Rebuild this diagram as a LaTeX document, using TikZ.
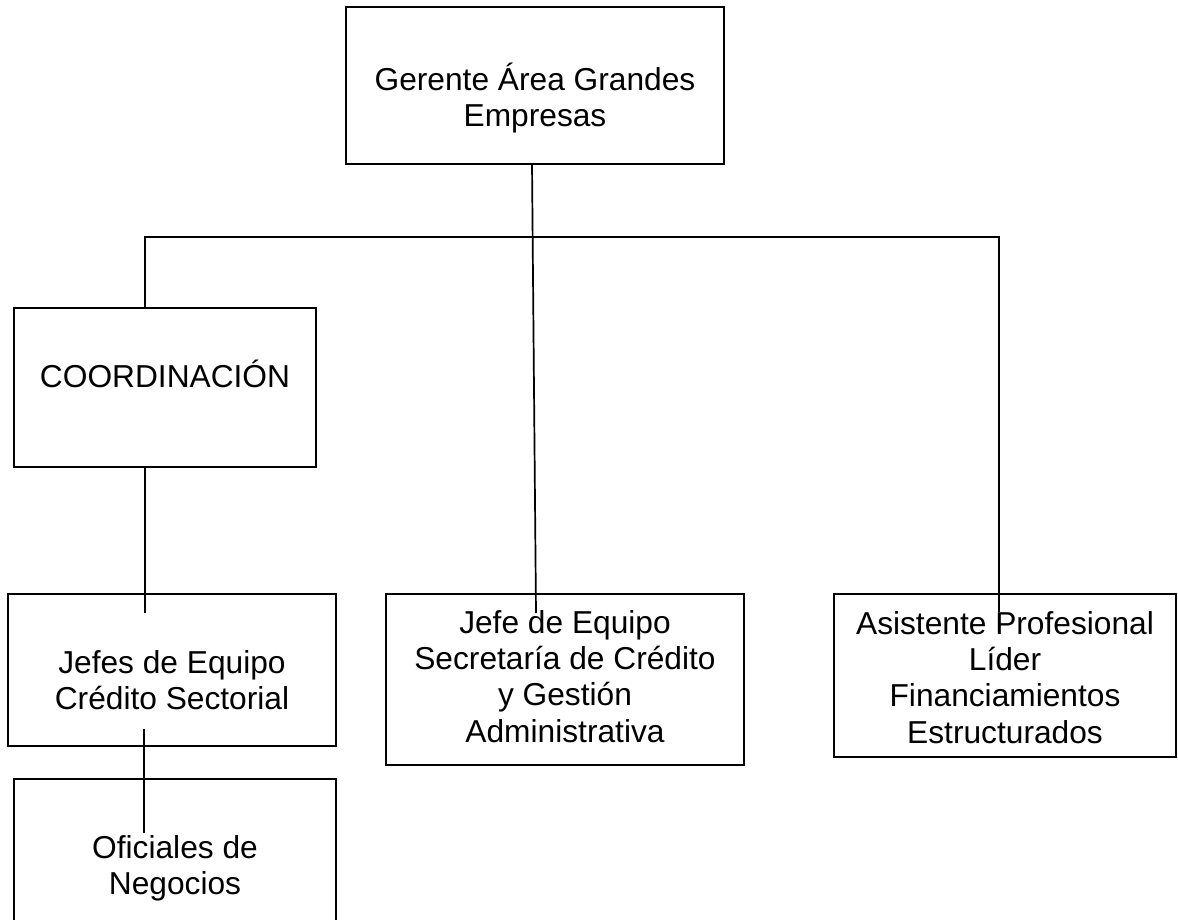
\documentclass[tikz,border=0pt]{standalone}
\usepackage{fontspec}
\setmainfont{Liberation Sans}
\usepackage{tikz}
\usetikzlibrary{positioning,calc}
\newcommand{\orgfont}{\fontsize{31.7pt}{36.4pt}\selectfont}
\newcommand{\boxtext}[1]{\begin{tabular}[t]{@{}c@{}}#1\end{tabular}}

\begin{document}
\begin{tikzpicture}[x=1pt, y=-1pt]
\tikzstyle{box}=[rectangle,draw,line width=2pt,inner sep=0pt,outer sep=0pt]
\tikzstyle{txt}=[anchor=base,inner sep=0pt,font=\orgfont]
\tikzstyle{link}=[line width=1.7pt]
\useasboundingbox (0,0) rectangle (1178,919);
\clip (0,0) rectangle (1178,919);
\node[box,minimum width=378,minimum height=157] (ger)    at (535,85.5)  {};
\node[box,minimum width=302,minimum height=159] (coord)  at (165,387.5) {};
\node[box,minimum width=328,minimum height=152] (jefes)  at (172,670)   {};
\node[box,minimum width=358,minimum height=171] (sec)    at (565,679.5) {};
\node[box,minimum width=342,minimum height=163] (asis)   at (1005,675.5){};
\node[box,minimum width=322,minimum height=181] (ofic)   at (175,869.5) {};
\coordinate (barL) at (145,237);
\coordinate (barR) at (999,237);
\coordinate (secTip)   at (536,613);
\coordinate (asisTip)  at (999,612);
\coordinate (jefesTip) at (145,613);
\coordinate (oficTip)  at (144,833);
\draw[link] ($(ger.south)+(-3,0)$) -- (secTip);
\draw[link] (barL |- coord.north) -- (barL) -- (barR) -- (asisTip);
\draw[link] (barL |- coord.south) -- (jefesTip);
\draw[link] ($(jefes.south -| oficTip)+(0,-17)$) -- (oficTip);
\node[txt] (gerT)   at (535,90)  {\boxtext{Gerente Área Grandes\\Empresas}};
\node[txt] (coordT) at (165,387) {\boxtext{COORDINACIÓN}};
\node[txt] (jefesT) at (172,673) {\boxtext{Jefes de Equipo\\Crédito Sectorial}};
\node[txt] (secT)   at (565,633) {\boxtext{Jefe de Equipo\\Secretaría de Crédito\\y Gestión\\Administrativa}};
\node[txt] (asisT)  at (1005,634){\boxtext{Asistente Profesional\\Líder\\Financiamientos\\Estructurados}};
\node[txt] (oficT)  at (175,858) {\boxtext{Oficiales de\\Negocios}};
\end{tikzpicture}
\end{document}
